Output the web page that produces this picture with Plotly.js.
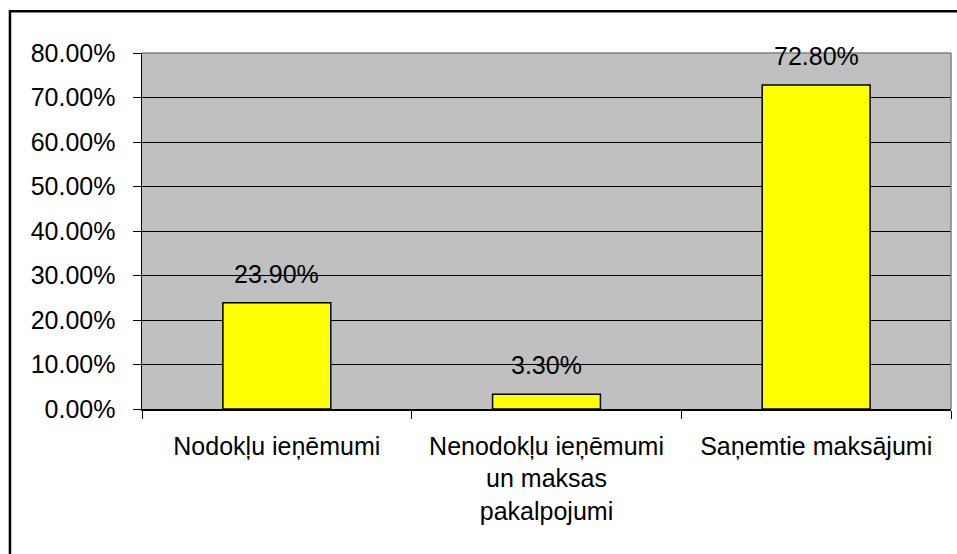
<!DOCTYPE html>
<html>
<head>
<meta charset="utf-8">
<script src="https://cdn.plot.ly/plotly-3.0.1.min.js"></script>
<style>html,body{margin:0;padding:0;background:#fff;}#chart{width:957px;height:554px;}</style>
</head>
<body>
<div id="chart"></div>
<script>
var categories = ["Nodokļu ieņēmumi", "Nenodokļu ieņēmumi<br>un maksas<br>pakalpojumi", "Saņemtie maksājumi"];
var shares = [0.239, 0.033, 0.728];
var valueLabels = ["23.90%", "3.30%", "72.80%"];

var FONT = "Liberation Sans, Arial, sans-serif";
var FS = 25;

var trace = {
  type: "bar",
  x: categories,
  y: shares,
  width: 0.4,
  marker: {color: "#FFFF00", line: {color: "#000000", width: 1.5}},
  hoverinfo: "none"
};

var annotations = categories.map(function (c, i) {
  return {
    x: c, y: shares[i], xref: "x", yref: "y",
    text: valueLabels[i], showarrow: false,
    yanchor: "bottom", yshift: 13,
    font: {family: FONT, size: FS, color: "#000"}
  };
});

var layout = {
  width: 957, height: 554,
  margin: {l: 142, r: 6, t: 53, b: 145},
  paper_bgcolor: "#ffffff",
  plot_bgcolor: "#C0C0C0",
  showlegend: false,
  font: {family: FONT, size: FS, color: "#000"},
  xaxis: {
    type: "category",
    tickson: "boundaries",
    ticks: "outside", ticklen: 8, tickwidth: 1, tickcolor: "#000",
    showgrid: false,
    showline: true, linecolor: "#000", linewidth: 1.5,
    tickfont: {family: FONT, size: FS, color: "#000"},
    ticklabelstandoff: 14,
    fixedrange: true
  },
  yaxis: {
    range: [0, 0.8],
    dtick: 0.1, tick0: 0,
    tickformat: ".2%",
    ticks: "outside", ticklen: 8, tickwidth: 1, tickcolor: "#000",
    showgrid: true, gridcolor: "#000", gridwidth: 1,
    zeroline: false,
    showline: true, linecolor: "#000", linewidth: 1.5,
    tickfont: {family: FONT, size: FS, color: "#000"},
    ticklabelstandoff: 12,
    fixedrange: true
  },
  annotations: annotations,
  shapes: [
    {type: "line", xref: "paper", yref: "paper", x0: 0, x1: 1, y0: 1, y1: 1, line: {color: "#808080", width: 1.5}, layer: "above"},
    {type: "line", xref: "paper", yref: "paper", x0: 1, x1: 1, y0: 0, y1: 1, line: {color: "#808080", width: 1.5}, layer: "above"},
    {type: "rect", xref: "paper", yref: "paper", x0: -0.1632, x1: 1.06, y0: -0.6, y1: 1.1171, line: {color: "#000", width: 2.5}, fillcolor: "rgba(0,0,0,0)", layer: "above"}
  ]
};

Plotly.newPlot("chart", [trace], layout, {displayModeBar: false, staticPlot: true});
</script>
</body>
</html>
